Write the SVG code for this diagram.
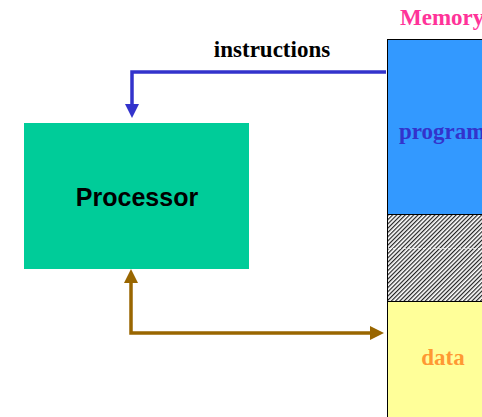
<svg xmlns="http://www.w3.org/2000/svg" width="482" height="417" viewBox="0 0 482 417">
<style>
.serif{font-family:"Liberation Serif",serif;font-weight:bold;font-size:23px}
.sans{font-family:"Liberation Sans",Arial,sans-serif;font-weight:bold}
.conn{fill:none;stroke-width:3.5}
</style>
<defs>
<pattern id="hatch" width="3" height="3" patternUnits="userSpaceOnUse" patternTransform="rotate(45)">
<rect width="3" height="3" fill="#ffffff"/>
<rect width="1.2" height="3" fill="#222222"/>
</pattern>
<marker id="ab" markerWidth="4" markerHeight="4" refX="2" refY="2" orient="auto" markerUnits="strokeWidth"><path d="M0,0 L4,2 L0,4 Z" fill="#3333CC"/></marker>
<marker id="ao" markerWidth="4" markerHeight="4" refX="2" refY="2" orient="auto-start-reverse" markerUnits="strokeWidth"><path d="M0,0 L4,2 L0,4 Z" fill="#996600"/></marker>
</defs>
<rect width="482" height="417" fill="#ffffff"/>
<g id="processor">
<rect x="24" y="123" width="225" height="146" fill="#00CC99"/>
<text class="sans" x="137" y="206" font-size="25" text-anchor="middle">Processor</text>
</g>
<g id="memory">
<text class="serif" x="400" y="25" fill="#FF3399">Memory</text>
<rect x="387.5" y="39.5" width="100" height="175" fill="#3399FF" stroke="#000" stroke-width="1"/>
<rect x="387.5" y="214.5" width="100" height="87" fill="url(#hatch)" stroke="#000" stroke-width="1"/>
<line x1="388" y1="248.5" x2="482" y2="248.5" stroke="#fff" stroke-width="1" stroke-dasharray="3,2" opacity="0.7"/>
<rect x="387.5" y="301.5" width="100" height="120" fill="#FFFF99" stroke="#000" stroke-width="1"/>
<text class="serif" x="399" y="139" fill="#3333CC">program</text>
<text class="serif" x="443" y="365" fill="#FF9933" text-anchor="middle">data</text>
</g>
<g id="connectors">
<text class="serif" x="272" y="57" fill="#000" text-anchor="middle">instructions</text>
<path class="conn" stroke="#3333CC" d="M386,72 H132 V111" marker-end="url(#ab)"/>
<path class="conn" stroke="#996600" d="M131,276 V333 H377" marker-start="url(#ao)" marker-end="url(#ao)"/>
</g>
</svg>
